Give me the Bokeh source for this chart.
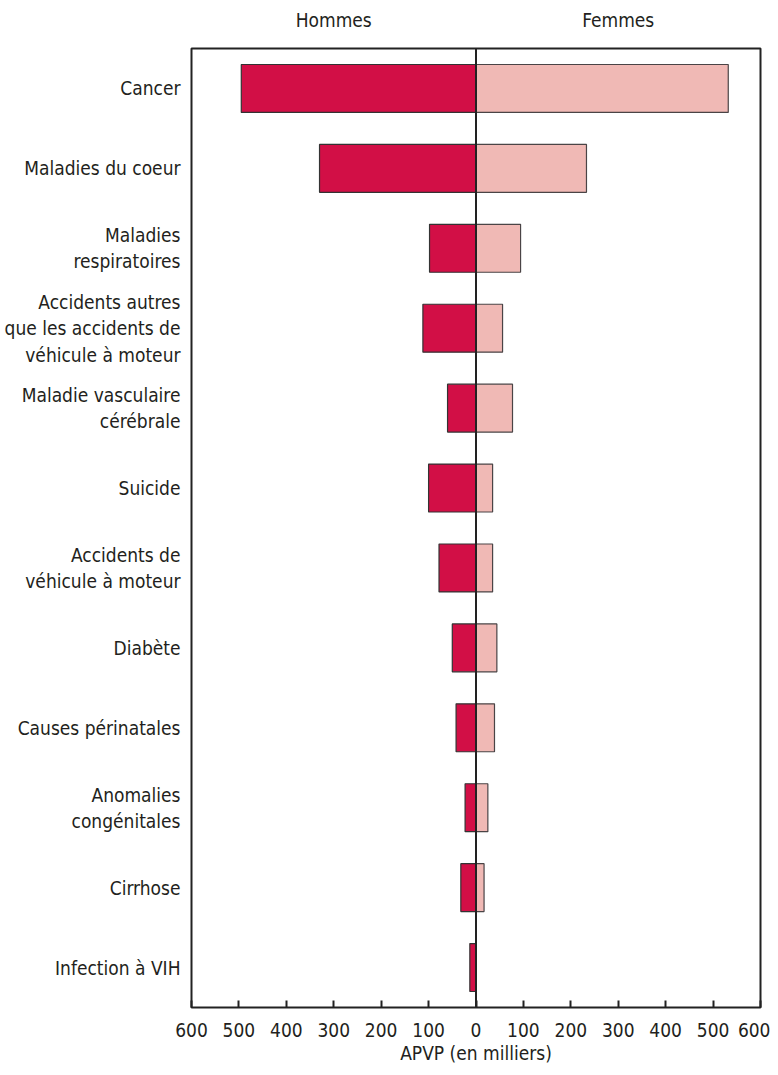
from bokeh.plotting import figure
from bokeh.models import Range1d, FixedTicker, LinearAxis, Span
from bokeh.embed import file_html
from bokeh.resources import INLINE

causes = ["Cancer", "Maladies du coeur", "Maladies\nrespiratoires",
          "Accidents autres\nque les accidents de\nvéhicule à moteur",
          "Maladie vasculaire\ncérébrale", "Suicide",
          "Accidents de\nvéhicule à moteur", "Diabète", "Causes périnatales",
          "Anomalies\ncongénitales", "Cirrhose", "Infection à VIH"]
hommes = [495, 330, 98, 112, 60, 100, 78, 50, 42, 23, 32, 13]
femmes = [532, 233, 94, 56, 77, 35, 35, 44, 39, 25, 17, 0]
x_ticks = [-600, -500, -400, -300, -200, -100, 0, 100, 200, 300, 400, 500, 600]
x_tick_labels = ["600", "500", "400", "300", "200", "100", "0", "100", "200", "300", "400", "500", "600"]
sexes = ["Hommes", "Femmes"]
sex_pos = [-300, 300]

FONT = "DejaVu Sans Condensed"
FS = "19px"
TXT = "#231F20"
MEN = "#D20F46"
WOMEN = "#F0B9B5"

idx = list(range(len(causes)))
p = figure(width=770, height=1070, output_backend="svg", toolbar_location=None,
           x_range=Range1d(-600, 600), y_range=Range1d(len(causes) - 0.5, -0.5),
           min_border_left=191, min_border_right=10, min_border_top=48, min_border_bottom=63)
p.grid.visible = False
p.outline_line_color = "#222222"
p.outline_line_width = 2

p.hbar(y=idx, left=[-v for v in hommes], right=0, height=0.6,
       fill_color=MEN, line_color="#333333", line_width=1.2)
p.hbar(y=idx, left=0, right=femmes, height=0.6,
       fill_color=WOMEN, line_color="#4a4446", line_width=1.2)
p.add_layout(Span(location=0, dimension="height", line_color="#222222", line_width=2))

xa = p.xaxis[0]
xa.ticker = FixedTicker(ticks=x_ticks)
xa.major_label_overrides = {t: l for t, l in zip(x_ticks, x_tick_labels)}
xa.major_tick_in = 7
xa.major_tick_out = 0
xa.major_tick_line_width = 2
xa.major_tick_line_color = "#222222"
xa.minor_tick_line_color = None
xa.axis_line_color = None
xa.major_label_text_font = FONT
xa.major_label_text_font_size = FS
xa.major_label_text_color = TXT
xa.major_label_standoff = 15
xa.axis_label = "APVP (en milliers)"
xa.axis_label_text_font = FONT
xa.axis_label_text_font_size = FS
xa.axis_label_text_font_style = "normal"
xa.axis_label_text_color = TXT
xa.axis_label_standoff = 2

ya = p.yaxis[0]
ya.ticker = FixedTicker(ticks=idx)
ya.major_label_overrides = {i: c for i, c in zip(idx, causes)}
ya.major_tick_line_color = None
ya.minor_tick_line_color = None
ya.axis_line_color = None
ya.major_label_text_font = FONT
ya.major_label_text_font_size = FS
ya.major_label_text_color = TXT
ya.major_label_standoff = 5

top = LinearAxis(ticker=FixedTicker(ticks=sex_pos),
                 major_label_overrides={t: s for t, s in zip(sex_pos, sexes)},
                 axis_line_color=None, major_tick_line_color=None, minor_tick_line_color=None,
                 major_label_text_font=FONT, major_label_text_font_size=FS,
                 major_label_text_color=TXT, major_label_standoff=12)
p.add_layout(top, "above")

open("out.html", "w").write(file_html(p, INLINE))
